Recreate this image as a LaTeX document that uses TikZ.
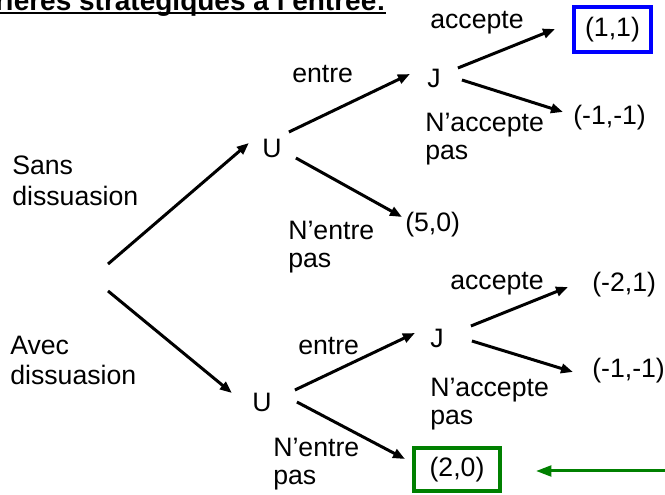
\documentclass[tikz,border=0pt]{standalone}
\usepackage{fontspec}
\setmainfont{Liberation Sans}
\usetikzlibrary{arrows.meta,calc}
\definecolor{eqblue}{RGB}{0,0,255}
\definecolor{eqgreen}{RGB}{0,128,0}
\tikzset{
  lbl/.style={anchor=base west, inner sep=0pt, font=\fontsize{20}{23}\selectfont},
  player/.style={anchor=base west, inner sep=0pt, font=\fontsize{20}{23}\selectfont},
  payoff/.style={anchor=base west, inner sep=0pt, font=\fontsize{20}{23}\selectfont},
  framed/.style={draw, line width=3pt, inner sep=0pt, minimum width=58pt, font=\fontsize{20}{23}\selectfont},
  branch/.style={line width=2.25pt, -{Triangle[length=9pt,width=7pt]}},
  pointer/.style={line width=2.25pt, color=eqgreen, -{Triangle[length=11.5pt,width=8pt]}},
}
\begin{document}
\begin{tikzpicture}[x=0.75pt,y=-0.75pt]
\useasboundingbox (0,0) rectangle (665,495);
\clip (0,0) rectangle (665,495);

% heading, underlined
\node[anchor=base east, inner sep=0pt, font=\bfseries\fontsize{21}{25}\selectfont] (title) at (386,11) {Barrières stratégiques à l’entrée:};
\draw[line width=1.5pt] ([yshift=-1.6pt]title.base west) -- ([yshift=-1.6pt]title.base east);

% left labels
\node[lbl] (sans1) at (12,175) {Sans};
\node[lbl] (sans2) at (12,206) {dissuasion};
\node[lbl] (avec1) at (10,355) {Avec};
\node[lbl] (avec2) at (10,385) {dissuasion};

% decision points
\coordinate (root) at (108,277.5);
\node[player] (U1) at (262,158) {U};
\node[player] (J1) at (427,88) {J};
\node[player] (U2) at (252,412) {U};
\node[player] (J2) at (430,348) {J};

% payoffs
\node[framed, draw=eqblue, minimum width=57.75pt, minimum height=33.75pt] (p11) at (612.5,29.5) {(1,1)};
\node[payoff] (pm1a) at (573,125) {(-1,-1)};
\node[payoff] (p50) at (405,232) {(5,0)};
\node[payoff] (pm21) at (592,292) {(-2,1)};
\node[payoff] (pm1b) at (592,378) {(-1,-1)};
\node[framed, draw=eqgreen, minimum width=64.5pt, minimum height=32.25pt] (p20) at (457,469.5) {(2,0)};
\coordinate (ptail) at (672,471);

% branch labels
\node[lbl] (acc1) at (430,29) {accepte};
\node[lbl] (nacc1) at (425,132) {N’accepte};
\node[lbl] (nacc1b) at (425,160) {pas};
\node[lbl] (ent1) at (292,83) {entre};
\node[lbl] (nent1) at (288,240) {N’entre};
\node[lbl] (nent1b) at (288,268) {pas};
\node[lbl] (acc2) at (450,290) {accepte};
\node[lbl] (ent2) at (298,355) {entre};
\node[lbl] (nacc2) at (430,397) {N’accepte};
\node[lbl] (nacc2b) at (430,425) {pas};
\node[lbl] (nent2) at (273,457) {N’entre};
\node[lbl] (nent2b) at (273,485) {pas};

% branches
\draw[branch] ([yshift=10.1pt]root) -- ([shift={(-23,-15)}]U1.base);
\draw[branch] ([yshift=-10.1pt]root) -- ([shift={(-30,-19)}]U2.base);

\draw[branch] ([shift={(17,-26)}]U1.base) -- ([shift={(-24,-14)}]J1.base);
\draw[branch] ([shift={(24,0)}]U1.base) -- ([shift={(-3,-15)}]p50.base west);
\draw[branch] ([shift={(24,-20)}]J1.base) -- ([shift={(-17,-0.5)}]p11.west);
\draw[branch] ([shift={(28,-8)}]J1.base) -- ([shift={(-10,-13)}]pm1a.base west);

\draw[branch] ([shift={(33,-22)}]U2.base) -- ([shift={(-22,-15)}]J2.base);
\draw[branch] ([shift={(35,-10)}]U2.base) -- ([shift={(-7,-10.5)}]p20.west);
\draw[branch] ([shift={(34,-22)}]J2.base) -- ([shift={(-24,-5)}]pm21.base west);
\draw[branch] ([shift={(35,-7)}]J2.base) -- ([shift={(-19,-6)}]pm1b.base west);

% pointer to the retained outcome
\draw[pointer] (ptail) -- ([shift={(34,1.5)}]p20.east);
\end{tikzpicture}
\end{document}
